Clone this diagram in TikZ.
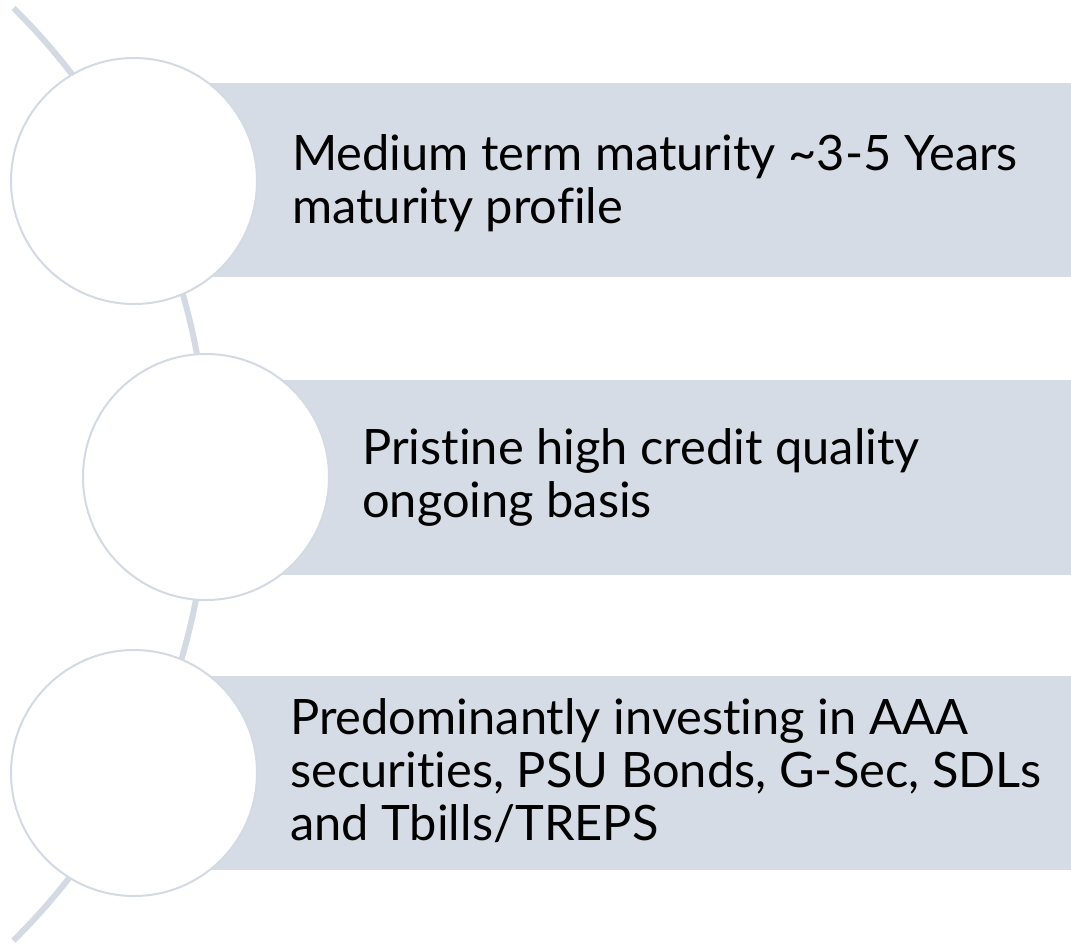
\documentclass[tikz,border=0pt]{standalone}
\usepackage{fontspec}
\setmainfont[Ligatures=NoCommon]{Lato}
\definecolor{bluegray}{HTML}{D6DCE5}
\definecolor{ringgray}{HTML}{D3DAE4}
\begin{document}
\begin{tikzpicture}[x=1pt,y=-1pt,
  band/.style={fill=bluegray,draw=none},
  disc/.style={circle,fill=white,draw=ringgray,line width=2pt,minimum size=246pt,inner sep=0pt},
  label/.style={anchor=north west,inner sep=0pt,align=left,text=black,
    font=\fontsize{48.8}{53}\selectfont},
  spine/.style={draw=ringgray,line width=6pt}]
\useasboundingbox (0,0) rectangle (1071,946);
% spine arc
\coordinate (spineTop) at (13.5,8);
\draw[spine] (spineTop) arc[start angle=-45.3, end angle=45.3, radius=656];
% bands
\fill[band] (134,83) rectangle (1071,277);
\fill[band] (206,380) rectangle (1071,575);
\fill[band] (134,676) rectangle (1071,870);
% circles
\node[disc] (c1) at (134,181) {};
\node[disc] (c2) at (206,477) {};
\node[disc] (c3) at (134,773) {};
% texts
\node[label] (t1) at (292,{170-37.1}) {\strut Medium term maturity \textasciitilde 3-5 Years\\\strut maturity profile};
\node[label] (t2) at (362,{464-37.1}) {\strut Pristine high credit quality\\\strut ongoing basis};
\node[label] (t3) at (290,{734-37.1}) {\strut Predominantly investing in AAA\\\strut securities, PSU Bonds, G-Sec, SDLs\\\strut and Tbills/TREPS};
\end{tikzpicture}
\end{document}
